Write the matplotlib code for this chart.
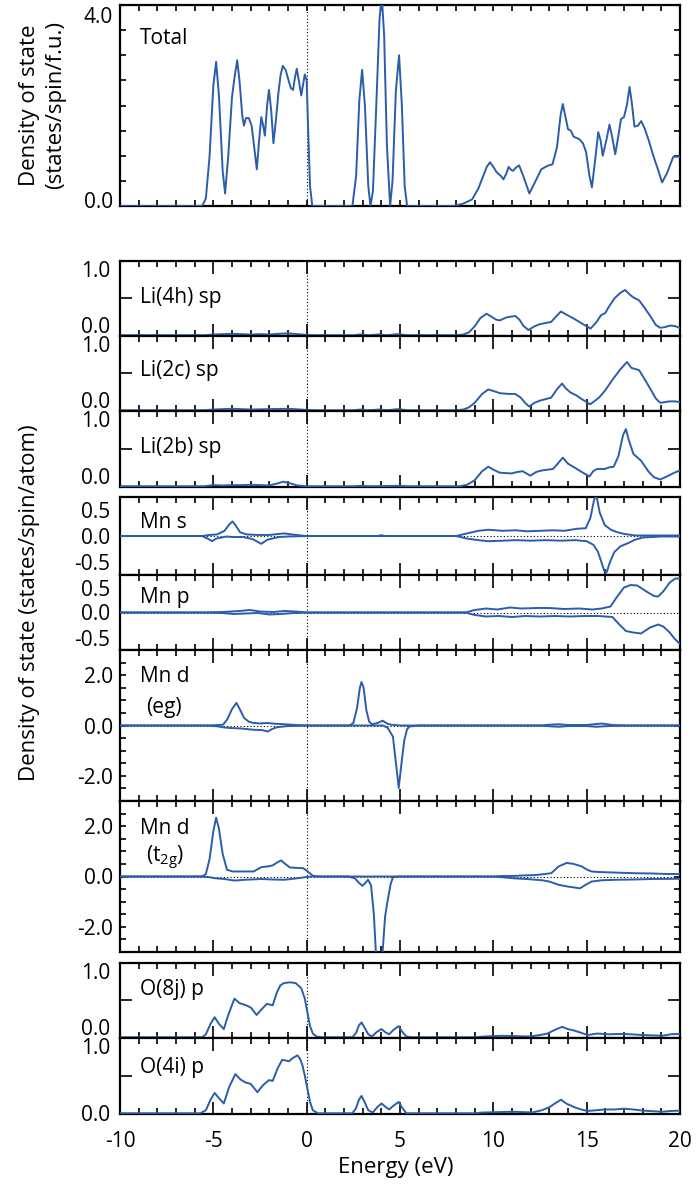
import matplotlib
matplotlib.use('Agg')
import matplotlib.pyplot as plt
import matplotlib.transforms as mtransforms
from matplotlib.ticker import MultipleLocator, FixedLocator

plt.rcParams['font.family'] = ['Open Sans', 'DejaVu Sans']
plt.rcParams['mathtext.fontset'] = 'custom'
plt.rcParams['mathtext.rm'] = 'Open Sans'
plt.rcParams['axes.unicode_minus'] = False

# ---- data: (energy eV, DOS) ----
total = [(-10, 0), (-5.6, 0), (-5.4, 0.15), (-5.2, 1.0), (-5.0, 2.4), (-4.85, 2.87), (-4.7, 2.2), (-4.5, 0.7),
         (-4.37, 0.25), (-4.2, 1.0), (-4.0, 2.17), (-3.85, 2.6), (-3.72, 2.9), (-3.6, 2.5), (-3.45, 1.8),
         (-3.36, 1.6), (-3.25, 1.75), (-3.1, 1.75), (-2.95, 1.6), (-2.82, 1.2), (-2.67, 0.73), (-2.55, 1.3),
         (-2.43, 1.77), (-2.33, 1.6), (-2.24, 1.4), (-2.12, 2.0), (-2.02, 2.31), (-1.9, 1.9), (-1.78, 1.25),
         (-1.65, 1.7), (-1.52, 2.23), (-1.4, 2.6), (-1.28, 2.79), (-1.12, 2.7), (-0.97, 2.5), (-0.85, 2.35),
         (-0.73, 2.31), (-0.63, 2.55), (-0.53, 2.73), (-0.42, 2.5), (-0.29, 2.2), (-0.2, 2.4), (-0.1, 2.62),
         (0.0, 2.5), (0.08, 1.5), (0.18, 0.4), (0.3, 0.0), (2.45, 0), (2.65, 0.6), (2.82, 2.1), (2.97, 2.71),
         (3.12, 2.0), (3.3, 0.4), (3.42, 0), (3.55, 0.3), (3.75, 2.2), (3.9, 3.7), (4.02, 4.2), (4.15, 3.4),
         (4.3, 1.2), (4.47, 0), (4.6, 0.5), (4.78, 2.3), (4.95, 3.0), (5.1, 2.0), (5.25, 0.4), (5.38, 0),
         (7.9, 0), (8.4, 0.05), (8.86, 0.13), (9.2, 0.35), (9.46, 0.6), (9.65, 0.78), (9.82, 0.87), (10.0, 0.78),
         (10.18, 0.67), (10.4, 0.6), (10.54, 0.53), (10.7, 0.65), (10.82, 0.78), (10.95, 0.72), (11.05, 0.7),
         (11.2, 0.76), (11.38, 0.81), (11.6, 0.6), (11.93, 0.25), (12.2, 0.45), (12.57, 0.73), (12.9, 0.8),
         (13.17, 0.83), (13.41, 1.17), (13.6, 1.8), (13.72, 2.03), (13.85, 1.8), (14.0, 1.53), (14.15, 1.5),
         (14.3, 1.38), (14.6, 1.33), (14.8, 1.25), (14.97, 1.07), (15.15, 0.6), (15.28, 0.37), (15.45, 0.9),
         (15.62, 1.47), (15.75, 1.3), (15.86, 1.0), (16.05, 1.3), (16.22, 1.62), (16.38, 1.35), (16.53, 1.03),
         (16.7, 1.4), (16.84, 1.73), (17.0, 1.77), (17.15, 2.0), (17.3, 2.37), (17.42, 2.05), (17.56, 1.58),
         (17.75, 1.6), (17.92, 1.69), (18.1, 1.55), (18.33, 1.3), (18.57, 1.0), (18.8, 0.75), (19.04, 0.47),
         (19.3, 0.65), (19.64, 0.98), (20.0, 0.98)]

li4h = [(-10, 0), (-5.5, 0), (-5, 0.01), (-4.5, 0.015), (-4, 0.02), (-3.5, 0.015), (-3, 0.01), (-2.5, 0.015),
        (-2, 0.01), (-1.5, 0.02), (-1, 0.025), (-0.5, 0.015), (0, 0.005), (0.5, 0), (2.5, 0), (2.9, 0.012),
        (3.3, 0), (3.9, 0.012), (4.3, 0), (4.9, 0.015), (5.4, 0), (8.0, 0), (8.4, 0.01), (8.7, 0.04), (9.0, 0.12),
        (9.3, 0.23), (9.63, 0.29), (9.9, 0.25), (10.15, 0.21), (10.35, 0.2), (10.7, 0.24), (11.17, 0.26),
        (11.4, 0.21), (11.6, 0.13), (11.88, 0.07), (12.2, 0.12), (12.5, 0.15), (13.1, 0.18), (13.35, 0.25),
        (13.62, 0.32), (13.9, 0.28), (14.34, 0.22), (14.8, 0.15), (15.21, 0.09), (15.5, 0.17), (15.77, 0.27),
        (16.0, 0.3), (16.18, 0.38), (16.5, 0.5), (16.8, 0.57), (17.06, 0.61), (17.3, 0.55), (17.5, 0.51),
        (17.81, 0.47), (18.1, 0.37), (18.43, 0.25), (18.7, 0.14), (18.94, 0.1), (19.2, 0.11), (19.45, 0.13),
        (19.7, 0.125), (20, 0.1)]

li2c = [(-10, 0), (-5.5, 0), (-5, 0.01), (-4, 0.02), (-3, 0.01), (-2, 0.015), (-1, 0.02), (0, 0.005), (0.5, 0),
        (2.5, 0), (2.9, 0.01), (3.3, 0), (3.9, 0.01), (4.3, 0), (4.9, 0.015), (5.4, 0), (8.0, 0), (8.4, 0.01),
        (8.7, 0.04), (9.0, 0.1), (9.4, 0.22), (9.73, 0.28), (10.0, 0.26), (10.35, 0.23), (10.8, 0.22),
        (11.17, 0.22), (11.47, 0.17), (11.7, 0.1), (11.92, 0.05), (12.2, 0.1), (12.5, 0.13), (13.1, 0.17),
        (13.4, 0.28), (13.68, 0.36), (13.9, 0.29), (14.13, 0.24), (14.45, 0.2), (14.74, 0.15), (15.19, 0.08),
        (15.4, 0.12), (15.66, 0.17), (16.0, 0.27), (16.38, 0.41), (16.8, 0.55), (17.16, 0.65), (17.4, 0.57),
        (17.81, 0.54), (18.1, 0.42), (18.43, 0.28), (18.7, 0.16), (18.94, 0.1), (19.2, 0.11), (19.45, 0.12),
        (19.7, 0.12), (20, 0.11)]

li2b = [(-10, 0), (-5.5, 0), (-5, 0.015), (-4.5, 0.01), (-4, 0.015), (-3.5, 0.015), (-3, 0.02), (-2.5, 0.015),
        (-2, 0.01), (-1.6, 0.035), (-1.25, 0.06), (-0.9, 0.04), (-0.5, 0.01), (0, 0), (2.5, 0), (2.9, 0.005),
        (3.5, 0.0), (4.9, 0.005), (5.5, 0), (8.2, 0), (8.6, 0.02), (9.0, 0.08), (9.4, 0.2), (9.73, 0.26),
        (10.0, 0.22), (10.35, 0.18), (10.96, 0.17), (11.3, 0.19), (11.57, 0.2), (11.98, 0.14), (12.3, 0.19),
        (12.6, 0.21), (13.2, 0.23), (13.45, 0.3), (13.72, 0.38), (14.0, 0.3), (14.34, 0.25), (14.8, 0.18),
        (15.15, 0.13), (15.35, 0.2), (15.56, 0.23), (15.97, 0.23), (16.2, 0.25), (16.45, 0.26), (16.7, 0.4),
        (16.95, 0.68), (17.1, 0.76), (17.25, 0.62), (17.5, 0.43), (17.91, 0.34), (18.3, 0.2), (18.6, 0.12),
        (18.94, 0.09), (19.3, 0.13), (19.7, 0.18), (20, 0.21)]

mn_s_up = [(-10, 0), (-5.6, 0), (-5.2, 0.02), (-4.8, 0.03), (-4.4, 0.1), (-4.15, 0.22), (-3.97, 0.28),
           (-3.8, 0.2), (-3.56, 0.07), (-3.2, 0.03), (-2.6, 0.02), (-2.0, 0.02), (-1.5, 0.04), (-1.2, 0.05),
           (-0.8, 0.03), (-0.3, 0.01), (0, 0), (3.8, 0.0), (4.0, 0.015), (4.2, 0), (8.0, 0), (8.6, 0.05),
           (9.2, 0.1), (9.73, 0.12), (10.5, 0.1), (11.2, 0.11), (11.8, 0.09), (12.5, 0.1), (13.2, 0.11),
           (13.8, 0.1), (14.5, 0.14), (14.95, 0.15), (15.2, 0.35), (15.4, 0.7), (15.52, 0.78), (15.7, 0.45),
           (15.97, 0.21), (16.3, 0.12), (16.58, 0.08), (17.0, 0.04), (17.6, 0.01), (20, 0.01)]
mn_s_dn = [(-10, 0), (-5.6, 0), (-5.3, -0.05), (-5.07, -0.1), (-4.85, -0.05), (-4.3, -0.01), (-3.97, -0.02),
           (-3.4, -0.02), (-2.9, -0.06), (-2.43, -0.15), (-2.1, -0.07), (-1.5, -0.02), (-1.0, -0.01), (0, 0),
           (8.0, 0), (8.6, -0.05), (9.2, -0.08), (9.73, -0.1), (10.5, -0.09), (11.2, -0.08), (12, -0.09),
           (12.8, -0.08), (13.6, -0.09), (14.4, -0.08), (15.0, -0.1), (15.36, -0.17), (15.6, -0.3),
           (15.77, -0.48), (15.95, -0.68), (16.07, -0.7), (16.25, -0.5), (16.48, -0.31), (16.8, -0.2),
           (17.2, -0.14), (17.6, -0.07), (18.0, -0.03), (19, -0.01), (20, -0.01)]

mn_p_up = [(-10, 0), (-5.4, 0), (-4.5, 0.01), (-3.6, 0.03), (-3.05, 0.05), (-2.5, 0.02), (-1.8, 0.01),
           (-1.2, 0.03), (-0.6, 0.02), (0, 0), (8.5, 0), (9.0, 0.05), (9.6, 0.08), (10.2, 0.06), (10.9, 0.1),
           (11.5, 0.08), (12.3, 0.09), (13.0, 0.09), (13.8, 0.07), (14.6, 0.08), (15.3, 0.06), (15.8, 0.08),
           (16.28, 0.12), (16.6, 0.3), (17.0, 0.5), (17.35, 0.55), (17.71, 0.54), (18.2, 0.42), (18.6, 0.33),
           (18.83, 0.32), (19.1, 0.42), (19.45, 0.6), (19.75, 0.68), (20, 0.68)]
mn_p_dn = [(-10, 0), (-5.4, 0), (-4.5, -0.01), (-3.9, -0.03), (-3.3, -0.02), (-2.6, -0.01), (-2.0, -0.04),
           (-1.4, -0.03), (-0.7, -0.01), (0, 0), (8.5, 0), (9.0, -0.05), (9.6, -0.08), (10.3, -0.07),
           (11.0, -0.09), (11.7, -0.07), (12.5, -0.08), (13.3, -0.07), (14.1, -0.08), (14.9, -0.07),
           (15.6, -0.07), (16.0, -0.08), (16.38, -0.09), (16.7, -0.22), (17.1, -0.37), (17.5, -0.4),
           (17.91, -0.42), (18.4, -0.3), (18.83, -0.24), (19.1, -0.28), (19.45, -0.4), (19.7, -0.52), (20, -0.63)]

eg_up = [(-10, 0), (-5.5, 0), (-5.0, 0.01), (-4.48, 0.03), (-4.25, 0.25), (-4.0, 0.65), (-3.76, 0.9),
         (-3.55, 0.6), (-3.35, 0.3), (-3.1, 0.15), (-2.84, 0.1), (-2.5, 0.08), (-2.13, 0.1), (-1.7, 0.07),
         (-1.2, 0.05), (-0.6, 0.02), (0, 0), (2.3, 0), (2.5, 0.1), (2.7, 0.7), (2.85, 1.5), (2.94, 1.73),
         (3.05, 1.5), (3.2, 0.6), (3.35, 0.15), (3.5, 0.05), (3.8, 0.1), (4.07, 0.19), (4.3, 0.08), (4.52, 0.03),
         (5, 0), (12.5, 0), (13.0, 0.03), (13.5, 0.05), (14.0, 0.02), (15.0, 0.02), (15.8, 0.08), (16.4, 0.02),
         (17.0, 0.0), (20, 0)]
eg_dn = [(-10, 0), (-5.5, 0), (-4.8, -0.03), (-4.4, -0.08), (-4.07, -0.1), (-3.5, -0.12), (-2.84, -0.17),
         (-2.4, -0.18), (-2.09, -0.24), (-1.85, -0.14), (-1.6, -0.07), (-1.0, -0.02), (0, 0), (4.1, 0),
         (4.35, -0.1), (4.62, -0.44), (4.8, -1.6), (4.93, -2.48), (5.08, -1.5), (5.23, -0.58), (5.38, -0.15),
         (5.5, -0.04), (6, 0), (12.5, 0), (13.0, -0.03), (13.5, -0.05), (14.0, -0.02), (15.0, -0.02),
         (15.5, -0.05), (16.2, -0.02), (17, 0), (20, 0)]

t2g_up = [(-10, 0), (-5.6, 0), (-5.4, 0.1), (-5.2, 0.7), (-5.0, 1.8), (-4.85, 2.34), (-4.7, 1.9), (-4.5, 0.9),
          (-4.27, 0.27), (-3.97, 0.2), (-3.4, 0.2), (-2.84, 0.2), (-2.6, 0.3), (-2.43, 0.37), (-2.1, 0.4),
          (-1.82, 0.44), (-1.6, 0.55), (-1.37, 0.64), (-1.15, 0.5), (-0.9, 0.36), (-0.5, 0.34), (-0.18, 0.33),
          (0.05, 0.2), (0.33, 0.03), (0.6, 0), (10.0, 0), (10.45, 0.02), (11.0, 0.02), (11.6, 0.04),
          (12.3, 0.06), (13.1, 0.13), (13.5, 0.4), (13.93, 0.54), (14.3, 0.5), (14.74, 0.4), (15.0, 0.28),
          (15.26, 0.2), (15.6, 0.18), (15.97, 0.17), (16.8, 0.15), (17.6, 0.13), (18.5, 0.12), (19.3, 0.1),
          (20, 0.1)]
t2g_dn = [(-10, 0), (-5.6, 0), (-5.2, -0.03), (-4.89, -0.07), (-4.4, -0.1), (-3.87, -0.16), (-3.3, -0.13),
          (-2.43, -0.1), (-1.8, -0.12), (-1.2, -0.13), (-0.6, -0.08), (0, -0.02), (0.3, 0), (2.2, 0),
          (2.58, -0.07), (2.8, -0.25), (2.99, -0.37), (3.15, -0.25), (3.29, -0.13), (3.45, -0.35), (3.6, -1.5),
          (3.72, -3.2), (3.88, -4.3), (4.05, -3.2), (4.2, -1.6), (4.35, -0.9), (4.5, -0.3), (4.62, -0.03),
          (5, 0), (10, 0), (10.5, -0.03), (11.06, -0.07), (11.8, -0.1), (12.6, -0.15), (13.0, -0.2),
          (13.5, -0.33), (14.0, -0.4), (14.64, -0.47), (14.9, -0.35), (15.26, -0.2), (15.8, -0.15),
          (16.58, -0.13), (17.5, -0.12), (18.5, -0.1), (20, -0.09)]

o8j = [(-10, 0), (-5.6, 0), (-5.4, 0.04), (-5.15, 0.18), (-4.93, 0.27), (-4.7, 0.18), (-4.44, 0.11),
       (-4.2, 0.3), (-3.87, 0.52), (-3.6, 0.46), (-3.25, 0.43), (-2.99, 0.4), (-2.68, 0.3), (-2.4, 0.38),
       (-2.13, 0.45), (-1.82, 0.43), (-1.6, 0.6), (-1.41, 0.7), (-1.21, 0.73), (-0.9, 0.74), (-0.59, 0.73),
       (-0.29, 0.66), (-0.1, 0.52), (0.02, 0.36), (0.18, 0.15), (0.33, 0.05), (0.53, 0.01), (0.8, 0), (2.45, 0),
       (2.65, 0.06), (2.8, 0.16), (2.94, 0.2), (3.1, 0.13), (3.3, 0.04), (3.5, 0.01), (3.75, 0.07), (4.01, 0.11),
       (4.2, 0.07), (4.42, 0.04), (4.65, 0.1), (4.93, 0.15), (5.1, 0.08), (5.34, 0.01), (5.6, 0), (9.0, 0),
       (9.5, 0.01), (10.45, 0.02), (11.2, 0.015), (11.98, 0.01), (12.5, 0.03), (12.9, 0.05), (13.3, 0.1),
       (13.68, 0.14), (14.0, 0.11), (14.34, 0.09), (14.7, 0.06), (15.05, 0.03), (15.56, 0.05), (16.18, 0.04),
       (17.0, 0.045), (18.0, 0.03), (19.04, 0.02), (19.5, 0.04), (20, 0.045)]

o4i = [(-10, 0), (-5.7, 0), (-5.4, 0.04), (-5.15, 0.18), (-4.93, 0.27), (-4.7, 0.2), (-4.44, 0.13),
       (-4.15, 0.35), (-3.82, 0.52), (-3.55, 0.45), (-3.29, 0.41), (-3.0, 0.39), (-2.64, 0.28), (-2.35, 0.37),
       (-2.02, 0.44), (-1.82, 0.43), (-1.55, 0.6), (-1.31, 0.71), (-1.1, 0.7), (-0.96, 0.69), (-0.7, 0.74),
       (-0.49, 0.77), (-0.35, 0.72), (-0.23, 0.64), (-0.1, 0.5), (0.02, 0.35), (0.18, 0.15), (0.33, 0.04),
       (0.6, 0), (2.45, 0), (2.65, 0.07), (2.8, 0.18), (2.94, 0.23), (3.1, 0.15), (3.3, 0.04), (3.54, 0.01),
       (3.78, 0.08), (4.01, 0.13), (4.2, 0.09), (4.42, 0.05), (4.65, 0.1), (4.93, 0.15), (5.1, 0.08),
       (5.34, 0.0), (9.0, 0), (9.43, 0.01), (10.3, 0.015), (11.06, 0.02), (12.08, 0.01), (12.6, 0.04),
       (13.0, 0.08), (13.3, 0.13), (13.62, 0.18), (13.9, 0.13), (14.34, 0.08), (14.7, 0.05), (15.05, 0.03),
       (15.5, 0.04), (15.97, 0.05), (16.5, 0.05), (17.0, 0.06), (17.5, 0.05), (18.0, 0.035), (19.04, 0.02),
       (19.5, 0.03), (20, 0.035)]

blue = '#2c5dab'
W, H = 700, 1195
fig = plt.figure(figsize=(W / 100, H / 100), dpi=100)

X0, X1 = 120, 680
FS = 15


def make_ax(top, bottom):
    return fig.add_axes([X0 / W, 1 - bottom / H, (X1 - X0) / W, (bottom - top) / H])


def base_style(ax, major_len=9, xlabels=False):
    ax.set_xlim(-10, 20)
    ax.xaxis.set_major_locator(MultipleLocator(5))
    ax.xaxis.set_minor_locator(MultipleLocator(1))
    ax.tick_params(axis='x', which='major', direction='in', top=True, bottom=True,
                   length=major_len, width=1.2, labelbottom=xlabels, labelsize=FS, pad=12)
    ax.tick_params(axis='x', which='minor', direction='in', top=True, bottom=True,
                   length=4, width=1.2)
    for s in ax.spines.values():
        s.set_linewidth(1.6)
    ax.axvline(0, color='k', lw=0.8, ls=(0, (1, 2)), zorder=1)


def shift_labels(ax, shifts):
    # nudge the end labels inward like the original layout
    for lab, dy in zip(ax.get_yticklabels(), shifts):
        off = mtransforms.ScaledTranslation(0, dy / 72, fig.dpi_scale_trans)
        lab.set_transform(lab.get_transform() + off)


def curve(ax, pts):
    e, v = zip(*pts)
    ax.plot(e, v, color=blue, lw=1.4, zorder=3)


# ---- Total ----
ax = make_ax(5, 206)
base_style(ax, major_len=4)
curve(ax, total)
ax.set_ylim(0, 4)
ax.yaxis.set_major_locator(FixedLocator([0, 4]))
ax.yaxis.set_minor_locator(MultipleLocator(0.5))
ax.set_yticklabels(['0.0', '4.0'])
ax.tick_params(axis='y', which='both', direction='in', left=True, right=True, length=4.5, width=1.2,
               labelsize=FS, pad=5)
shift_labels(ax, [4, -7])

# ---- Li / O panels (0..1) ----
simple = [(li4h, 261, 336, 'Li(4h) sp', 297), (li2c, 336, 411, 'Li(2c) sp', 371),
          (li2b, 411, 487, 'Li(2b) sp', 448), (o8j, 963, 1038, 'O(8j) p', 989),
          (o4i, 1038, 1114, 'O(4i) p', 1067)]
for pts, top, bot, name, ty in simple:
    ax = make_ax(top, bot)
    base_style(ax, xlabels=(bot == 1114))
    curve(ax, pts)
    ax.set_ylim(-0.01, 1.0)
    ax.yaxis.set_major_locator(FixedLocator([0, 1]))
    ax.yaxis.set_minor_locator(FixedLocator([0.5]))
    ax.set_yticklabels(['0.0', '1.0'])
    ax.tick_params(axis='y', which='major', length=0, labelsize=FS, pad=7)
    ax.tick_params(axis='y', which='minor', direction='in', left=True, right=True, length=8.5, width=1.2)
    shift_labels(ax, [7.5 if bot != 1114 else 0, -5.5])
    fig.text(140 / W, 1 - ty / H, name, fontsize=FS, va='center', ha='left')

# ---- Mn s, Mn p ----
for up, dn, top, bot, name, ty in [(mn_s_up, mn_s_dn, 497, 575, 'Mn s', 522),
                                   (mn_p_up, mn_p_dn, 575, 650, 'Mn p', 598)]:
    ax = make_ax(top, bot)
    base_style(ax)
    ax.axhline(0, color='k', lw=0.8, ls=(0, (1, 2)), zorder=1)
    curve(ax, up)
    curve(ax, dn)
    ax.set_ylim(-0.75, 0.75)
    ax.yaxis.set_major_locator(FixedLocator([-0.5, 0, 0.5]))
    ax.set_yticklabels(['-0.5', '0.0', '0.5'])
    ax.tick_params(axis='y', which='major', length=0, labelsize=FS, pad=7)
    fig.text(140 / W, 1 - ty / H, name, fontsize=FS, va='center', ha='left')

# ---- Mn d ----
for up, dn, top, bot, sub, ty in [(eg_up, eg_dn, 650, 801, '(eg)', 677),
                                  (t2g_up, t2g_dn, 801, 952, r'(t$_{\mathregular{2g}}$)', 828)]:
    ax = make_ax(top, bot)
    base_style(ax)
    ax.axhline(0, color='k', lw=0.8, ls=(0, (1, 2)), zorder=1)
    curve(ax, up)
    curve(ax, dn)
    ax.set_ylim(-3, 3)
    ax.yaxis.set_major_locator(FixedLocator([-2, 0, 2]))
    ax.yaxis.set_minor_locator(MultipleLocator(0.5))
    ax.set_yticklabels(['-2.0', '0.0', '2.0'])
    ax.tick_params(axis='y', which='both', direction='in', left=True, right=True, length=4.5, width=1.2,
                   labelsize=FS, pad=5)
    fig.text(140 / W, 1 - ty / H, 'Mn d', fontsize=FS, va='center', ha='left')
    fig.text(146 / W, 1 - (ty + 30) / H, sub, fontsize=FS, va='center', ha='left')

fig.text(140 / W, 1 - 38 / H, 'Total', fontsize=FS, va='center', ha='left')

fig.text(30 / W, 1 - 105 / H, 'Density of state', rotation=90, fontsize=16, ha='center', va='center')
fig.text(56 / W, 1 - 105 / H, '(states/spin/f.u.)', rotation=90, fontsize=16, ha='center', va='center')
fig.text(30 / W, 1 - 603 / H, 'Density of state (states/spin/atom)', rotation=90, fontsize=16,
         ha='center', va='center')
fig.text(396 / W, 1 - 1168 / H, 'Energy (eV)', fontsize=16, ha='center', va='center')

fig.savefig('out.png', dpi=100)
